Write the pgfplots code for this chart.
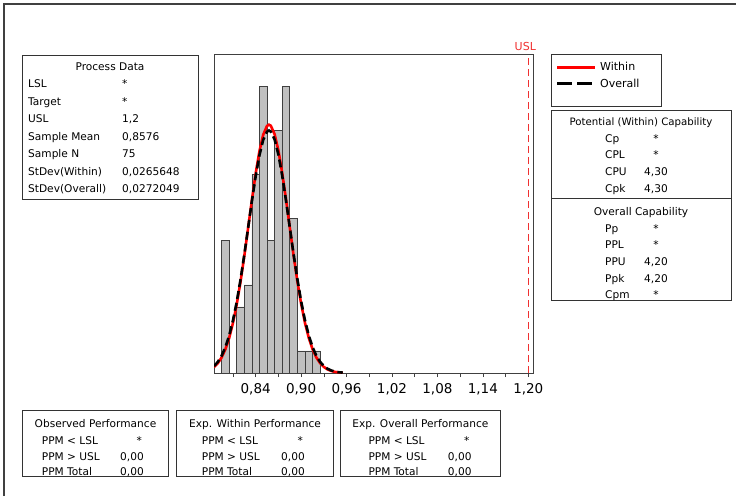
\documentclass[border=0pt]{standalone}
\usepackage{fontspec}
\setmainfont{DejaVu Sans}
\usepackage{pgfplots}
\pgfplotsset{compat=1.18}
\definecolor{histgray}{HTML}{C0C0C0}
\definecolor{edgegray}{HTML}{404040}
\definecolor{uslred}{HTML}{F03030}
\begin{document}
\begin{tikzpicture}
\begin{scope}[x=1pt,y=-1pt]
\useasboundingbox (0,0) rectangle (736,496);
\draw[black!75, line width=1.2pt] (4,496) -- (4,4) -- (736,4);
\end{scope}
\begin{axis}[
  at={(214pt,-373pt)}, anchor=south west,
  scale only axis, width=319pt, height=319pt,
  xmin=0.785, xmax=1.2062, ymin=0, ymax=14.47,
  ytick=\empty,
  xtick={0.84,0.90,0.96,1.02,1.08,1.14,1.20},
  minor xtick={0.81,0.87,0.93,0.99,1.05,1.11,1.17},
  xtick pos=lower,
  tick align=outside, major tick length=4pt, minor tick length=4pt,
  tick style={color=black!75, line width=0.6pt},
  axis line style={black!75, line width=0.8pt},
  xticklabel style={font=\fontsize{13.5}{15}\selectfont, yshift=-3pt},
  /pgf/number format/assume math mode=true,
  /pgf/number format/use comma,
  /pgf/number format/fixed,
  /pgf/number format/fixed zerofill,
  /pgf/number format/precision=2,
]
\addplot[ybar interval, fill=histgray, draw=edgegray, line width=0.6pt] coordinates {
(0.795,6) (0.805,0) (0.815,3) (0.825,4) (0.835,9) (0.845,13) (0.855,6) (0.865,11) (0.875,13) (0.885,7) (0.895,1) (0.905,1) (0.915,1) (0.925,1)};
\addplot[uslred, line width=1pt, dash pattern=on 7pt off 4pt] coordinates {(1.2,0) (1.2,14.47)};
\addplot[red, line width=2.6pt] coordinates {
(0.785,0.269) (0.790,0.442) (0.795,0.701) (0.800,1.073) (0.805,1.586) (0.810,2.262) (0.815,3.113) (0.820,4.136) (0.825,5.304) (0.830,6.565) (0.835,7.843) (0.840,9.044) (0.845,10.065) (0.850,10.811) (0.855,11.209) (0.8576,11.263) (0.860,11.217) (0.865,10.834) (0.870,10.100) (0.875,9.088) (0.880,7.894) (0.885,6.617) (0.890,5.353) (0.895,4.181) (0.900,3.151) (0.905,2.293) (0.910,1.610) (0.915,1.091) (0.920,0.714) (0.925,0.451) (0.930,0.275) (0.935,0.162) (0.940,0.092) (0.945,0.050) (0.950,0.027) (0.955,0.014)};
\addplot[black, line width=2.6pt, dash pattern=on 8pt off 4pt] coordinates {
(0.785,0.313) (0.790,0.502) (0.795,0.779) (0.800,1.169) (0.805,1.697) (0.810,2.380) (0.815,3.227) (0.820,4.232) (0.825,5.364) (0.830,6.574) (0.835,7.789) (0.840,8.921) (0.845,9.880) (0.850,10.577) (0.855,10.948) (0.8576,10.998) (0.860,10.955) (0.865,10.598) (0.870,9.913) (0.875,8.964) (0.880,7.836) (0.885,6.623) (0.890,5.411) (0.895,4.275) (0.900,3.265) (0.905,2.411) (0.910,1.721) (0.915,1.187) (0.920,0.792) (0.925,0.511) (0.930,0.319) (0.935,0.192) (0.940,0.112) (0.945,0.063) (0.950,0.034) (0.955,0.018)};
\coordinate (uslTop) at (axis cs:1.2,14.47);
\end{axis}
\node[anchor=south, inner sep=0pt, text=uslred, font=\fontsize{11}{13}\selectfont, xshift=-3pt, yshift=3pt] at (uslTop) {USL};
\begin{scope}[x=1pt,y=-1pt, t/.style={font=\fontsize{10.6}{12}\selectfont, inner sep=0pt, text height=7.7pt, text depth=0pt}, bx/.style={draw=black!80, line width=0.8pt}]
% Process Data
\draw[bx] (22,55) rectangle (198,199);
\node[t] at (110,67) {Process Data};
\foreach \lab/\val [count=\i from 0] in {LSL/*, Target/*, USL/{1,2}, Sample Mean/{0,8576}, Sample N/75, StDev(Within)/{0,0265648}, StDev(Overall)/{0,0272049}} {
  \node[t, anchor=west] at (28,84+17.5*\i) {\lab};
  \node[t, anchor=west] at (122,84+17.5*\i) {\val};
}
% legend
\draw[bx] (551,54) rectangle (661,106);
\draw[red, line width=3pt] (557,67) -- (595,67);
\node[t, anchor=west, font=\fontsize{11}{13}\selectfont] at (600,67) {Within};
\draw[black, line width=3pt, dash pattern=on 15pt off 5pt] (557,83.3) -- (595,83.3);
\node[t, anchor=west, font=\fontsize{11}{13}\selectfont] at (600,83.3) {Overall};
% capability
\draw[bx] (551,110.5) rectangle (731,300.5);
\draw[bx] (551,198.3) -- (731,198.3);
\node[t, font=\fontsize{10.2}{12}\selectfont] at (641,121.7) {Potential (Within) Capability};
\foreach \lab/\val/\y in {Cp/*/138.3, CPL/*/155, CPU/{4,30}/171.7, Cpk/{4,30}/188.3} {
  \node[t, anchor=west] at (605,\y) {\lab};
  \node[t] at (656,\y) {\val};
}
\node[t] at (641,211.7) {Overall Capability};
\foreach \lab/\val/\y in {Pp/*/228.3, PPL/*/245, PPU/{4,20}/261.7, Ppk/{4,20}/278.3, Cpm/*/295} {
  \node[t, anchor=west] at (605,\y) {\lab};
  \node[t] at (656,\y) {\val};
}
% bottom boxes
\foreach \xl/\xr/\title/\xlab/\xval/\vb in {22.7/168.3/Observed Performance/41.7/144/a, 176.7/333.3/Exp. Within Performance/201.7/305/b, 340.7/500/Exp. Overall Performance/368.3/471.7/c} {
  \draw[bx] (\xl,410) rectangle (\xr,476.7);
  \node[t] at ({(\xl+\xr)/2},424) {\title};
  \node[t, anchor=west] at (\xlab,440.7) {PPM < LSL};
  \node[t, anchor=west] at (\xlab,456.2) {PPM > USL};
  \node[t, anchor=west] at (\xlab,471.7) {PPM Total};
  \node[t, anchor=east] at (\xval-2,440.7) {*};
  \node[t, anchor=east] at (\xval,456.2) {0,00};
  \node[t, anchor=east] at (\xval,471.7) {0,00};
}
\end{scope}
\end{tikzpicture}
\end{document}
